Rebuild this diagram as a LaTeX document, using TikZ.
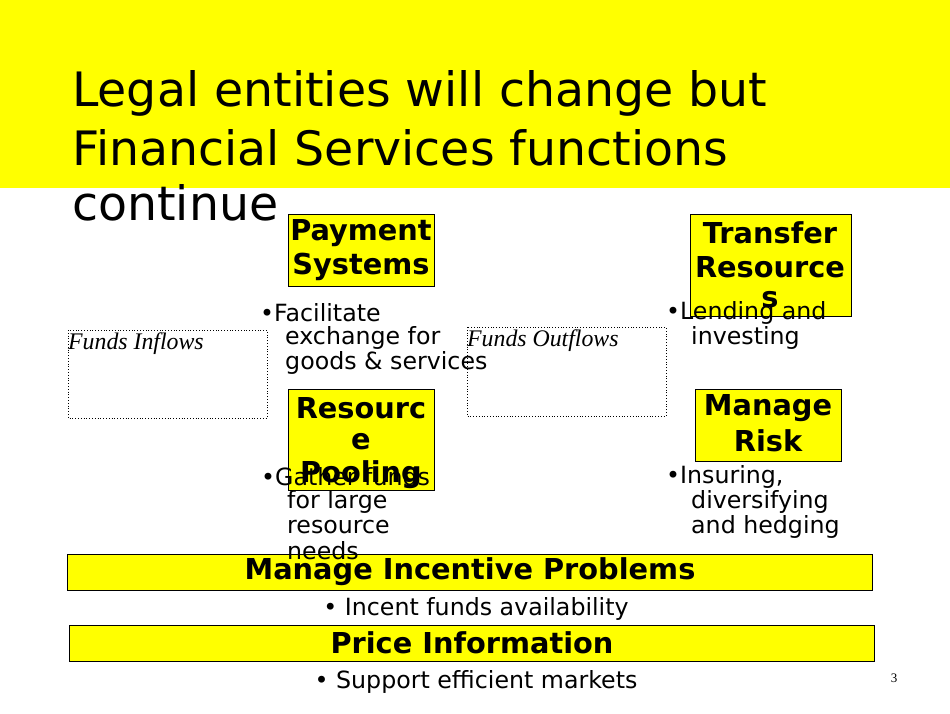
\documentclass[tikz,border=0pt]{standalone}
\usepackage{fontspec}
\setmainfont{DejaVu Sans}
\newfontfamily\serifit{Liberation Serif}
\definecolor{ylw}{RGB}{255,255,0}
\begin{document}
\begin{tikzpicture}[x=1pt,y=-1pt,
  ybox/.style={draw=black,fill=ylw,line width=0.8pt},
  dbox/.style={draw=black,dotted,line width=0.8pt},
  bt/.style={font=\fontsize{28.8}{34}\selectfont\bfseries,anchor=center,inner sep=0},
  bl/.style={font=\fontsize{23.7}{24}\selectfont,anchor=west,inner sep=0},
  tt/.style={font=\fontsize{47.4}{55}\selectfont,anchor=west,inner sep=0}]
\useasboundingbox (0,0) rectangle (950,713);
\fill[ylw] (0,0) rectangle (950,188);
\node[tt] (t1) at (72,93) {Legal entities will change but};
\node[tt] (t2) at (72,148) {Financial Services functions};
\node[tt] (t3) at (72,203) {continue};
\draw[ybox] (288,214) rectangle (434,286);
\node[bt] (p1) at (361,233) {Payment};
\node[bt] (p2) at (361,267) {Systems};
\draw[ybox] (690,214) rectangle (851,316);
\node[bt] (tr1) at (770,233) {Transfer};
\node[bt] (tr2) at (770,267) {Resource};
\node[bt] (tr3) at (770,300) {s};
\draw[ybox] (288,389) rectangle (434,490);
\node[bt] (r1) at (361,408) {Resourc};
\node[bt] (r2) at (361,442) {e};
\node[bt] (r3) at (361,475) {Pooling};
\draw[ybox] (695,389) rectangle (841,461);
\node[bt] (m1) at (768,408) {Manage};
\node[bt] (m2) at (768,441) {Risk};
\draw[ybox] (67,554) rectangle (872,590);
\node[bt] (mi) at (470,572) {Manage Incentive Problems};
\draw[ybox] (69,625) rectangle (874,661);
\node[bt] (pi) at (472,643) {Price Information};
\draw[dbox] (68,330) rectangle (267,418);
\node[font=\serifit\itshape\fontsize{23.8}{24}\selectfont,anchor=west,inner sep=0] (fi) at (68,344) {Funds Inflows};
\draw[dbox] (467,327) rectangle (666,416);
\node[font=\serifit\itshape\fontsize{23.8}{24}\selectfont,anchor=west,inner sep=0] (fo) at (467,341) {Funds Outflows};
\node[bl] (a1) at (260,313) {•Facilitate};
\node[bl] (a2) at (285,338) {exchange for};
\node[bl] (a3) at (285,363) {goods \& services};
\node[bl] (b1) at (666,313) {•Lending and};
\node[bl] (b2) at (691,338) {investing};
\node[bl] (c1) at (261,477) {•Gather funds};
\node[bl] (c2) at (287,502) {for large};
\node[bl] (c3) at (287,527) {resource};
\node[bl] (c4) at (287,551) {needs};
\node[bl] (d1) at (666,477) {•Insuring,};
\node[bl] (d2) at (691,502) {diversifying};
\node[bl] (d3) at (691,527) {and hedging};
\node[bl,anchor=center] (e1) at (476,609) {• Incent funds availability};
\node[bl,anchor=center] (e2) at (476,682) {• Support efficient markets};
\node[font=\serifit\fontsize{13}{14}\selectfont,inner sep=0] (pg) at (894,678) {3};
\end{tikzpicture}
\end{document}
